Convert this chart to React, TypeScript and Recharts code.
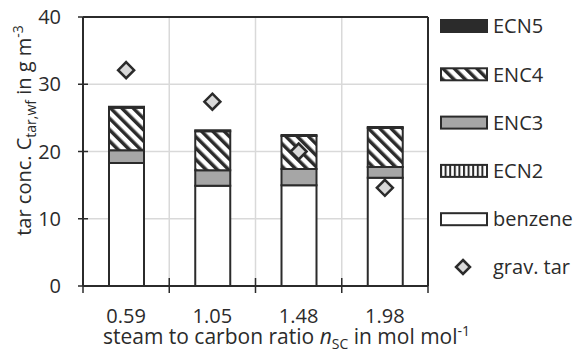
import {
  ComposedChart,
  Bar,
  Line,
  XAxis,
  YAxis,
  CartesianGrid,
  ReferenceLine
} from 'recharts';

const categories = ['0.59', '1.05', '1.48', '1.98'];
const benzene = [18.3, 14.9, 15.0, 16.1];
const ecn2 = [0, 0, 0, 0];
const enc3 = [1.9, 2.3, 2.4, 1.6];
const enc4 = [6.3, 5.8, 4.9, 5.8];
const ecn5 = [0.15, 0.15, 0.15, 0.15];
const gravTar = [32.1, 27.4, 20.0, 14.6];
const yTicks = [0, 10, 20, 30, 40];
// category slots on a 0..4 axis: centres carry labels, integers are separators
const boundaries = [0, 1, 2, 3, 4];
const centres = categories.map((_, i) => i + 0.5);

const data = categories.map((c, i) => ({
  pos: centres[i],
  label: c,
  benzene: benzene[i],
  ecn2: ecn2[i],
  enc3: enc3[i],
  enc4: enc4[i],
  ecn5: ecn5[i],
  grav: gravTar[i]
}));

const DARK = '#2b2b2b';
const GRID = '#d9d9d9';
const FONT = '"Open Sans", sans-serif';

const renderXTick = (props: any) => {
  const { x, y, payload } = props;
  const v = payload.value;
  if (Number.isInteger(v)) {
    return <line x1={x} x2={x} y1={y - 8} y2={y + 7} stroke={DARK} strokeWidth={1.5} />;
  }
  return (
    <text x={x} y={y + 30} dy="0.36em" textAnchor="middle" fill={DARK} fontSize={20} fontFamily={FONT}>
      {categories[Math.floor(v)]}
    </text>
  );
};

const renderYTick = (props: any) => {
  const { x, y, payload } = props;
  return (
    <g>
      <line x1={x - 5} x2={x + 5} y1={y} y2={y} stroke={DARK} strokeWidth={1.5} />
      <text x={x - 22} y={y} dy="0.36em" textAnchor="end" fill={DARK} fontSize={20} fontFamily={FONT}>
        {payload.value}
      </text>
    </g>
  );
};

const Diamond = (props: any) => {
  const { cx, cy, r = 8 } = props;
  if (cx == null || cy == null) return null;
  return (
    <path
      d={`M${cx},${cy - r} L${cx + r},${cy} L${cx},${cy + r} L${cx - r},${cy} Z`}
      fill="#d9d9d9"
      stroke={DARK}
      strokeWidth={2.5}
    />
  );
};

const xLabel = (props: any) => {
  const { viewBox } = props;
  const cx = viewBox.x + viewBox.width / 2 + 31;
  return (
    <text x={cx} y={viewBox.y + 58} textAnchor="middle" fill={DARK} fontSize={21} fontFamily={FONT}>
      steam to carbon ratio{' '}
      <tspan fontStyle="italic">n</tspan>
      <tspan fontSize={14} dy={5}>SC</tspan>
      <tspan dy={-5}> in mol mol</tspan>
      <tspan fontSize={14} dy={-8}>-1</tspan>
    </text>
  );
};

const yLabel = (props: any) => {
  const { viewBox } = props;
  const x = viewBox.x + 24;
  const y = viewBox.y + viewBox.height / 2 - 21;
  return (
    <text
      x={x}
      y={y}
      transform={`rotate(-90, ${x}, ${y})`}
      textAnchor="middle"
      dy="0.36em"
      fill={DARK}
      fontSize={20}
      fontFamily={FONT}
    >
      tar conc. C<tspan fontSize={14} dy={5}>tar,wf</tspan>
      <tspan dy={-5}> in g m</tspan>
      <tspan fontSize={14} dy={-8}>-3</tspan>
    </text>
  );
};

const Patterns = ({ suffix }: { suffix: string }) => (
  <defs>
    <pattern
      id={`hatch${suffix}`}
      patternUnits="userSpaceOnUse"
      width={8}
      height={8}
      patternTransform="rotate(-45)"
    >
      <rect width={8} height={8} fill="#fff" />
      <rect width={3.5} height={8} fill={DARK} />
    </pattern>
    <pattern id={`vstripe${suffix}`} patternUnits="userSpaceOnUse" width={4.6} height={4.6}>
      <rect width={4.6} height={4.6} fill="#fff" />
      <rect width={2} height={4.6} fill={DARK} />
    </pattern>
  </defs>
);

const legendItems = [
  { name: 'ECN5', fill: DARK },
  { name: 'ENC4', fill: 'url(#hatchL)' },
  { name: 'ENC3', fill: '#a6a6a6' },
  { name: 'ECN2', fill: 'url(#vstripeL)' },
  { name: 'benzene', fill: '#fff' }
];

const ChartLegend = () => (
  <svg width={133} height={356} style={{ position: 'absolute', left: 440, top: 0 }}>
    <Patterns suffix="L" />
    {legendItems.map((it, i) => {
      const top = 20 + i * 48.3;
      return (
        <g key={it.name}>
          <rect x={1} y={top} width={46} height={12} fill={it.fill} stroke={DARK} strokeWidth={2} />
          <text x={53} y={top + 6} dy="0.36em" fill={DARK} fontSize={20} fontFamily={FONT}>
            {it.name}
          </text>
        </g>
      );
    })}
    <Diamond cx={23} cy={267} r={7} />
    <text x={53} y={267} dy="0.36em" fill={DARK} fontSize={20} fontFamily={FONT}>
      grav. tar
    </text>
  </svg>
);

export default function App() {
  return (
    <div style={{ position: 'absolute', left: 0, top: 0, width: 573, height: 356, background: '#fff' }}>
      <ComposedChart
        width={573}
        height={356}
        data={data}
        margin={{ top: 17, right: 145, bottom: 0, left: 0 }}
      >
        <Patterns suffix="C" />
        <CartesianGrid vertical={false} stroke={GRID} strokeWidth={1.5} />
        {boundaries.slice(1, 4).map((b) => (
          <ReferenceLine key={b} x={b} stroke={GRID} strokeWidth={1.5} />
        ))}
        <XAxis
          dataKey="pos"
          type="number"
          domain={[0, 4]}
          ticks={[...boundaries, ...centres].sort((a, b) => a - b)}
          interval={0}
          tickLine={false}
          tickSize={0}
          tickMargin={0}
          height={70}
          axisLine={{ stroke: DARK, strokeWidth: 2 }}
          tick={renderXTick}
          label={{ content: xLabel }}
        />
        <YAxis
          type="number"
          domain={[0, 40]}
          ticks={yTicks}
          interval={0}
          width={83}
          tickLine={false}
          tickSize={0}
          tickMargin={0}
          axisLine={{ stroke: DARK, strokeWidth: 2 }}
          tick={renderYTick}
          label={{ content: yLabel }}
        />
        <ReferenceLine y={40} stroke={DARK} strokeWidth={2} />
        <ReferenceLine x={4} stroke={DARK} strokeWidth={2} />
        <Bar dataKey="benzene" stackId="a" barSize={35} fill="#fff" stroke={DARK} strokeWidth={2} isAnimationActive={false} />
        <Bar dataKey="ecn2" stackId="a" barSize={35} fill="url(#vstripeC)" stroke={DARK} strokeWidth={2} isAnimationActive={false} />
        <Bar dataKey="enc3" stackId="a" barSize={35} fill="#a6a6a6" stroke={DARK} strokeWidth={2} isAnimationActive={false} />
        <Bar dataKey="enc4" stackId="a" barSize={35} fill="url(#hatchC)" stroke={DARK} strokeWidth={2} isAnimationActive={false} />
        <Bar dataKey="ecn5" stackId="a" barSize={35} fill={DARK} stroke={DARK} strokeWidth={2} isAnimationActive={false} />
        <Line
          dataKey="grav"
          stroke="none"
          dot={<Diamond r={8} />}
          activeDot={false}
          isAnimationActive={false}
        />
      </ComposedChart>
      <ChartLegend />
    </div>
  );
}
